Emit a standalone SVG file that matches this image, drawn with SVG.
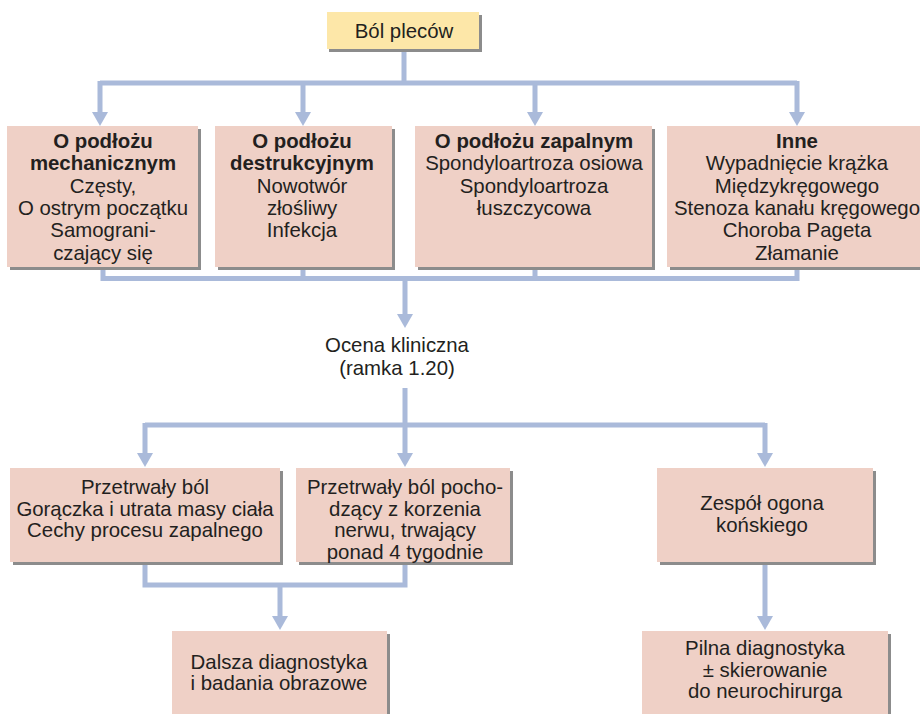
<svg xmlns="http://www.w3.org/2000/svg" width="920" height="714" viewBox="0 0 920 714">
<defs>
<style>
.box{fill:#efd0c6;}
.top{fill:#fde7a8;}
.sh{fill:#8c8c8c;}
.t{font-family:"Liberation Sans",Arial,sans-serif;font-size:20.4px;fill:#231f20;text-anchor:middle;}
.b{font-weight:bold;}
.c{fill:none;stroke:#aabada;stroke-width:5;}
.ah{fill:#aabada;}
</style>
</defs>
<rect width="920" height="714" fill="#ffffff"/>

<g id="connectors">
<path class="c" d="M404,50 V83 M100,83 H797 M100,81 V114 M303,81 V114 M535,81 V114 M797,81 V114"/>
<polygon class="ah" points="92,112 108,112 100,126"/>
<polygon class="ah" points="295,112 311,112 303,126"/>
<polygon class="ah" points="527,112 543,112 535,126"/>
<polygon class="ah" points="789,112 805,112 797,126"/>
<path class="c" d="M103,268 V278.5 H797 V268 M303,268 V278.5 M535,268 V278.5 M405,278.5 V316"/>
<polygon class="ah" points="397,314 413,314 405,328"/>
<path class="c" d="M405,388 V425 M145,425 H765 M145,423 V455 M405,423 V455 M765,423 V455"/>
<polygon class="ah" points="137,453 153,453 145,467"/>
<polygon class="ah" points="397,453 413,453 405,467"/>
<polygon class="ah" points="757,453 773,453 765,467"/>
<path class="c" d="M145,564 V585 H405 V564 M280,585 V618"/>
<polygon class="ah" points="272,616 288,616 280,630"/>
<path class="c" d="M765,564 V618"/>
<polygon class="ah" points="757,616 773,616 765,630"/>
</g>

<g id="bol-plecow">
<rect class="sh" x="329" y="15" width="153" height="37"/>
<rect class="top" x="327" y="12" width="152" height="37"/>
<text class="t" x="404" y="38">Ból pleców</text>
</g>

<g id="mechaniczny">
<rect class="sh" x="10" y="129" width="191" height="141"/>
<rect class="box" x="7" y="126" width="191" height="141"/>
<text class="t" x="103" y="148"><tspan class="b">O podłożu</tspan><tspan class="b" x="103" dy="22.3">mechanicznym</tspan><tspan x="103" dy="22.3">Częsty,</tspan><tspan x="103" dy="22.3">O ostrym początku</tspan><tspan x="103" dy="22.3">Samograni-</tspan><tspan x="103" dy="22.3">czający się</tspan></text>
</g>

<g id="destrukcyjny">
<rect class="sh" x="218" y="129" width="177" height="141"/>
<rect class="box" x="215" y="126" width="177" height="141"/>
<text class="t" x="302" y="148"><tspan class="b">O podłożu</tspan><tspan class="b" x="302" dy="22.3">destrukcyjnym</tspan><tspan x="302" dy="22.3">Nowotwór</tspan><tspan x="302" dy="22.3">złośliwy</tspan><tspan x="302" dy="22.3">Infekcja</tspan></text>
</g>

<g id="zapalny">
<rect class="sh" x="418" y="129" width="237" height="141"/>
<rect class="box" x="415" y="126" width="237" height="141"/>
<text class="t" x="534" y="148"><tspan class="b">O podłożu zapalnym</tspan><tspan x="534" dy="22.3">Spondyloartroza osiowa</tspan><tspan x="534" dy="22.3">Spondyloartroza</tspan><tspan x="534" dy="22.3">łuszczycowa</tspan></text>
</g>

<g id="inne">
<rect class="sh" x="670" y="129" width="260" height="141"/>
<rect class="box" x="667" y="126" width="260" height="141"/>
<text class="t" x="797" y="148"><tspan class="b">Inne</tspan><tspan x="797" dy="22.3">Wypadnięcie krążka</tspan><tspan x="797" dy="22.3">Międzykręgowego</tspan><tspan x="797" dy="22.3">Stenoza kanału kręgowego</tspan><tspan x="797" dy="22.3">Choroba Pageta</tspan><tspan x="797" dy="22.3">Złamanie</tspan></text>
</g>

<g id="ocena">
<text class="t" x="397" y="352">Ocena kliniczna</text>
<text class="t" x="397" y="375">(ramka 1.20)</text>
</g>

<g id="przetrwaly">
<rect class="sh" x="13" y="471" width="270" height="94"/>
<rect class="box" x="10" y="468" width="270" height="94"/>
<text class="t" x="145" y="494"><tspan>Przetrwały ból</tspan><tspan x="145" dy="21.7">Gorączka i utrata masy ciała</tspan><tspan x="145" dy="21.7">Cechy procesu zapalnego</tspan></text>
</g>

<g id="korzen">
<rect class="sh" x="299" y="471" width="214" height="94"/>
<rect class="box" x="296" y="468" width="214" height="94"/>
<text class="t" x="405" y="494"><tspan>Przetrwały ból pocho-</tspan><tspan x="405" dy="21.7">dzący z korzenia</tspan><tspan x="405" dy="21.7">nerwu, trwający</tspan><tspan x="405" dy="21.7">ponad 4 tygodnie</tspan></text>
</g>

<g id="ogon">
<rect class="sh" x="660" y="471" width="216" height="94"/>
<rect class="box" x="657" y="468" width="216" height="94"/>
<text class="t" x="762" y="510"><tspan>Zespół ogona</tspan><tspan x="762" dy="22">końskiego</tspan></text>
</g>

<g id="dalsza">
<rect class="sh" x="175" y="634" width="215" height="90"/>
<rect class="box" x="172" y="631" width="215" height="90"/>
<text class="t" x="279" y="669"><tspan>Dalsza diagnostyka</tspan><tspan x="279" dy="21">i badania obrazowe</tspan></text>
</g>

<g id="pilna">
<rect class="sh" x="645" y="634" width="246" height="90"/>
<rect class="box" x="642" y="631" width="246" height="90"/>
<text class="t" x="765" y="655"><tspan>Pilna diagnostyka</tspan><tspan x="765" dy="21.5">± skierowanie</tspan><tspan x="765" dy="21.5">do neurochirurga</tspan></text>
</g>
</svg>
